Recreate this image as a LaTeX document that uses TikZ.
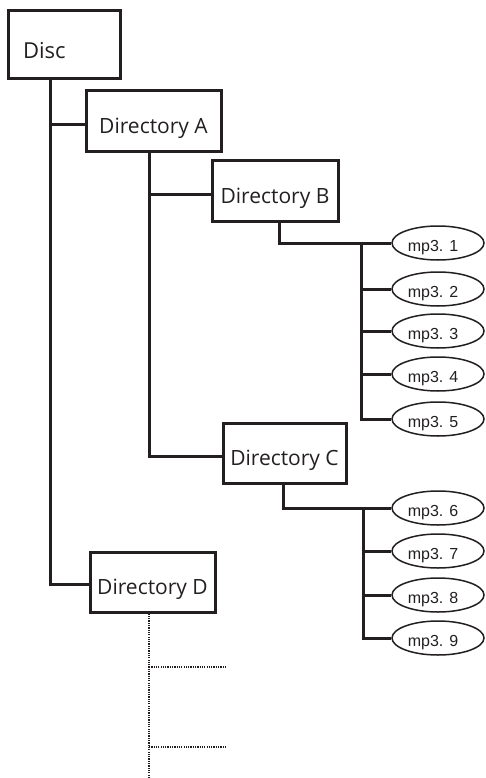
\documentclass[tikz,border=0pt]{standalone}
\usepackage{fontspec}
\setmainfont{Open Sans}
\newfontfamily\mpfont{Liberation Sans}
\usetikzlibrary{shapes.geometric}
\definecolor{ink}{RGB}{35,31,32}
\begin{document}
\begin{tikzpicture}[x=1pt,y=-1pt,
  dirbox/.style={draw=ink,line width=3pt,rectangle,inner sep=0pt,font=\fontsize{21}{25}\selectfont,text=ink,text height=24pt,text depth=0pt},
  mpnode/.style={draw=ink,line width=1.5pt,ellipse,inner sep=0pt,minimum width=92pt,minimum height=34pt,font=\mpfont\fontsize{16}{19}\selectfont,text=ink,text height=17.4pt,text depth=0pt,execute at end node={\hspace{10pt}}},
  link/.style={draw=ink,line width=3pt},
  dotlink/.style={draw=ink,line width=2pt,dash pattern=on 1.2pt off 1.1pt}]
\useasboundingbox (0,0) rectangle (485,778);
\node[dirbox,minimum width=112pt,minimum height=68pt,text width=82pt,align=left,font=\fontsize{22}{26}\selectfont,text height=26.6pt] (disc) at (64,45) {Disc};
\node[dirbox,minimum width=135pt,minimum height=61pt] (dirA) at (153.5,121.5) {Directory A};
\node[dirbox,minimum width=126pt,minimum height=60pt] (dirB) at (275,191) {Directory B};
\node[dirbox,minimum width=123pt,minimum height=60pt] (dirC) at (284.5,453) {Directory C};
\node[dirbox,minimum width=125pt,minimum height=60pt] (dirD) at (152.5,582) {Directory D};
\node[mpnode] (m1) at (438,243) {mp3. 1};
\node[mpnode] (m2) at (438,289) {mp3. 2};
\node[mpnode] (m3) at (438,331) {mp3. 3};
\node[mpnode] (m4) at (438,374) {mp3. 4};
\node[mpnode] (m5) at (438,419) {mp3. 5};
\node[mpnode] (m6) at (438,508) {mp3. 6};
\node[mpnode] (m7) at (438,551) {mp3. 7};
\node[mpnode] (m8) at (438,595) {mp3. 8};
\node[mpnode] (m9) at (438,638) {mp3. 9};
\coordinate (jB) at (361,243);
\coordinate (jC) at (363,508);
\coordinate (dEnd) at (149,778);
\coordinate (d1) at (225,667);
\coordinate (d2) at (225,747);
\draw[link] ([xshift=-14pt]disc.south) |- ([yshift=-3.5pt]dirA.west);
\draw[link] ([xshift=-14pt]disc.south) |- ([yshift=-2pt]dirD.west);
\draw[link] ([xshift=-4.5pt]dirA.south) |- ([yshift=-3pt]dirB.west);
\draw[link] ([xshift=-4.5pt]dirA.south) |- ([yshift=-3pt]dirC.west);
\draw[link] ([xshift=4pt]dirB.south) |- (m1.west);
\draw[link] (jB) |- (m2.west);
\draw[link] (jB) |- (m3.west);
\draw[link] (jB) |- (m4.west);
\draw[link] (jB) |- (m5.west);
\draw[link] ([xshift=-1.5pt]dirC.south) |- (m6.west);
\draw[link] (jC) |- (m7.west);
\draw[link] (jC) |- (m8.west);
\draw[link] (jC) |- (m9.west);
\draw[dotlink] ([xshift=-3.5pt]dirD.south) -- (dEnd);
\draw[dotlink] (dEnd |- d1) -- (d1);
\draw[dotlink] (dEnd |- d2) -- (d2);
\end{tikzpicture}
\end{document}
